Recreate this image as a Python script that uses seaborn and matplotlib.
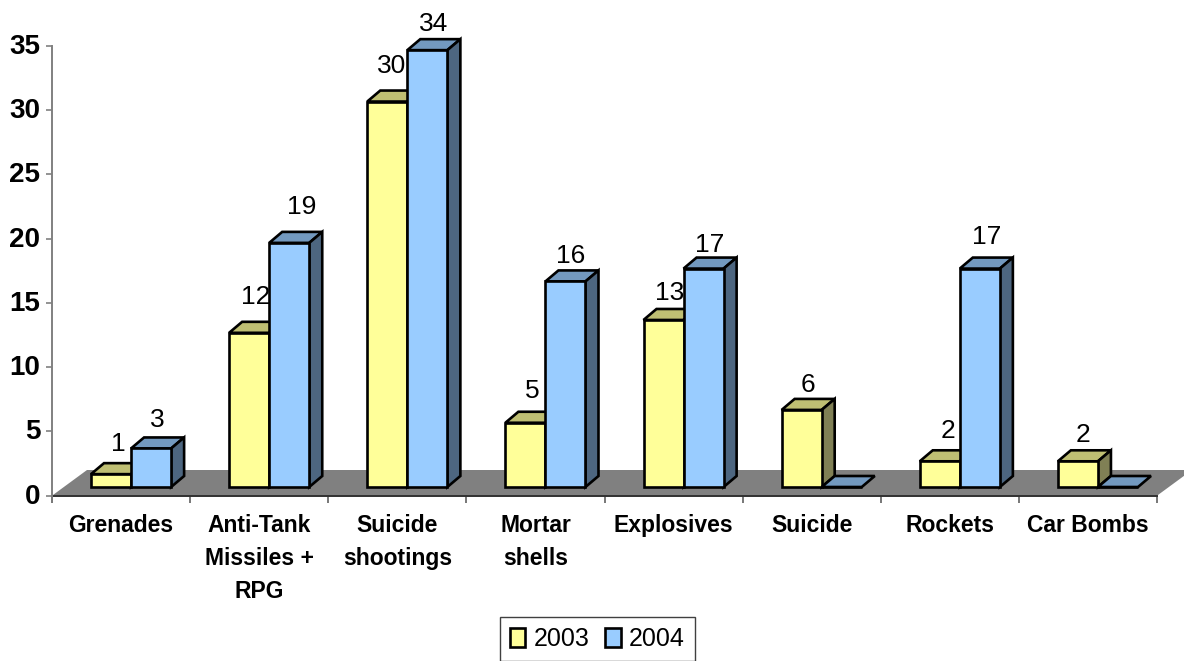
"""Fake-3D grouped bars (2003 vs 2004) by attack type, drawn on seaborn's barplot."""

import matplotlib
matplotlib.use("Agg")
import matplotlib.pyplot as plt
import pandas as pd
import seaborn as sns
from matplotlib.patches import Polygon
from matplotlib.transforms import Affine2D, IdentityTransform

# ---------------------------------------------------------------------------
# Data
# ---------------------------------------------------------------------------
CATEGORIES = [
    "Grenades", "Anti-Tank\nMissiles +\nRPG", "Suicide\nshootings", "Mortar\nshells",
    "Explosives", "Suicide", "Rockets", "Car Bombs",
]
VALUES_2003 = [1, 12, 30, 5, 13, 6, 2, 2]
VALUES_2004 = [3, 19, 34, 16, 17, 0, 17, 0]
YEARS = ["2003", "2004"]

# ---------------------------------------------------------------------------
# Style
# ---------------------------------------------------------------------------
WIDTH, HEIGHT = 1184, 661
FRONT = {"2003": "#FFFF99", "2004": "#99CCFF"}
TOP = {"2003": "#BFBF73", "2004": "#7399BF"}
SIDE = {"2003": "#808055", "2004": "#4D6680"}
FLOOR = "#808080"
BAR_SHIFT = (10, 8.7)  # bars stand inside the floor, in pixels
BAR_DEPTH = (13, 11)
FLOOR_DEPTH = (35, 25.7)
# hand placed data labels, pixels from the middle of the bar's top edge
LABEL_NUDGE_2003 = [(7, 30), (7, 36), (4, 36), (7, 32), (6, 27), (6, 25), (8, 30), (5, 26)]
LABEL_NUDGE_2004 = [(6, 28), (12, 36), (6, 26), (5, 25), (6, 24), (0, 0), (7, 32), (0, 0)]

sns.set_theme(style="white")
plt.rcParams["font.family"] = ["Liberation Sans", "DejaVu Sans"]


def add_face(ax, pixels, color, zorder):
    ax.add_patch(Polygon(pixels, closed=True, facecolor=color, edgecolor="black", linewidth=1.9,
                         transform=IdentityTransform(), clip_on=False, zorder=zorder))


def main():
    df = pd.DataFrame({
        "category": CATEGORIES * 2,
        "year": [YEARS[0]] * len(CATEGORIES) + [YEARS[1]] * len(CATEGORIES),
        "value": VALUES_2003 + VALUES_2004,
    })

    fig = plt.figure(figsize=(WIDTH / 100, HEIGHT / 100), dpi=100)
    ax = fig.add_axes([52 / WIDTH, 1 - 495.7 / HEIGHT, 1105 / WIDTH, 449.7 / HEIGHT])
    sns.barplot(data=df, x="category", y="value", hue="year", palette=FRONT, saturation=1,
                width=0.58, gap=0, edgecolor="black", linewidth=1.9, ax=ax)
    ax.set_xlim(-0.5, len(CATEGORIES) - 0.5)
    ax.set_ylim(0, 35)
    ax.set_xlabel("")
    ax.set_ylabel("")
    ax.patch.set_alpha(0)

    # Floor plane
    (x0, y0), (x1, _) = ax.transAxes.transform([(0, 0), (1, 0)])
    fd = FLOOR_DEPTH
    ax.add_patch(Polygon([(x0, y0), (x1, y0), (x1 + fd[0], y0 + fd[1]), (x0 + fd[0], y0 + fd[1])],
                         closed=True, facecolor=FLOOR, edgecolor="none",
                         transform=IdentityTransform(), clip_on=False, zorder=0.5))

    # Bars: move the fronts onto the floor, then add top and side faces
    shift = Affine2D().translate(BAR_SHIFT[0], BAR_SHIFT[1])
    dx, dy = BAR_DEPTH
    for s, (year, container, nudges) in enumerate(
            zip(YEARS, ax.containers, [LABEL_NUDGE_2003, LABEL_NUDGE_2004])):
        for bar, nudge in zip(container, nudges):
            zorder = 2 + s
            bar.set_transform(ax.transData + shift)
            bar.set_clip_on(False)
            bar.set_zorder(zorder + 0.2)
            (l, b), (r, t) = (ax.transData + shift).transform(
                [(bar.get_x(), 0), (bar.get_x() + bar.get_width(), bar.get_height())])
            add_face(ax, [(l, t), (r, t), (r + dx, t + dy), (l + dx, t + dy)], TOP[year], zorder)
            if bar.get_height() > 0:
                add_face(ax, [(r, b), (r + dx, b + dy), (r + dx, t + dy), (r, t)], SIDE[year], zorder)
                ax.annotate(f"{bar.get_height():.0f}", xy=((l + r) / 2, t), xycoords="figure pixels",
                            xytext=nudge, textcoords="offset pixels", ha="center", va="center",
                            fontsize=19, color="black", zorder=6)

    # Axes, ticks and labels
    sns.despine(ax=ax)
    ax.spines["left"].set_color("#808080")
    ax.spines["left"].set_linewidth(1.4)
    ax.spines["bottom"].set_color("#303030")
    ax.spines["bottom"].set_linewidth(1.4)
    ax.spines["bottom"].set_zorder(1)
    ax.set_yticks(range(0, 36, 5))
    ax.set_xticks([i - 0.5 for i in range(len(CATEGORIES) + 1)], minor=True)
    ax.set_xticks(range(len(CATEGORIES)))
    ax.set_xticklabels(CATEGORIES, fontsize=16.5, fontweight="bold", color="black", linespacing=1.55)
    ax.tick_params(axis="x", which="major", length=0, pad=13)
    ax.tick_params(axis="x", which="minor", length=5, width=1.2, color="#606060", bottom=True)
    ax.tick_params(axis="y", length=4.5, width=1.2, color="#808080", left=True, pad=4)
    for label in ax.get_yticklabels():
        label.set_fontsize(20)
        label.set_fontweight("bold")
        label.set_color("black")
        label.set_transform(label.get_transform() + Affine2D().translate(0, 2))

    sns.move_legend(ax, "lower center", bbox_to_anchor=(597.5 / WIDTH, 0.0),
                    bbox_transform=fig.transFigure, ncol=2, title=None, frameon=True, fancybox=False,
                    framealpha=1, edgecolor="#404040", fontsize=18, labelcolor="black",
                    handlelength=0.62, handleheight=0.8,
                    handletextpad=0.35, columnspacing=0.6, borderpad=0.4, borderaxespad=0)
    ax.get_legend().set_zorder(7)

    fig.savefig("out.png", dpi=100, facecolor="white")
    plt.close(fig)


if __name__ == "__main__":
    main()
